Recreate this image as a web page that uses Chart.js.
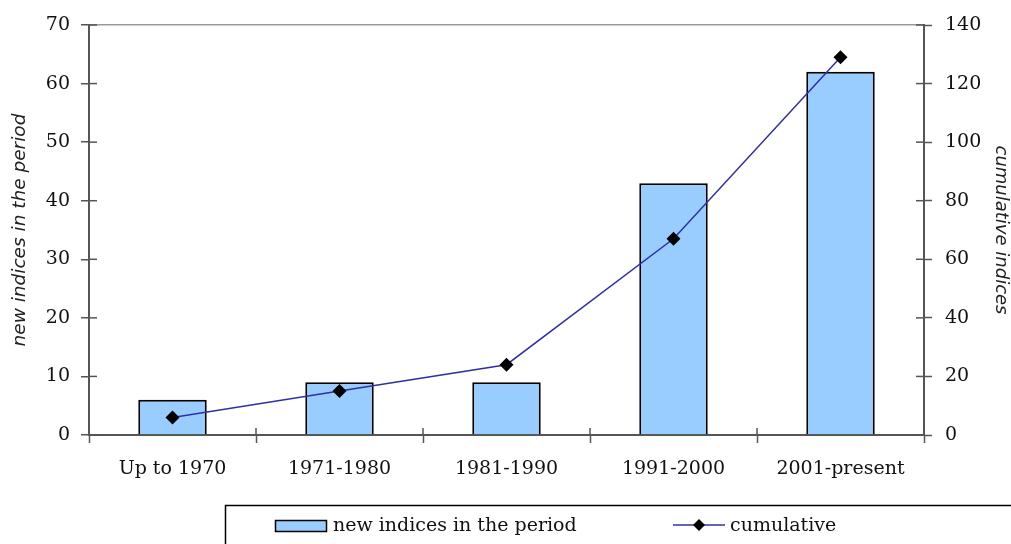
<!DOCTYPE html>
<html>
<head>
<meta charset="utf-8">
<script src="https://cdn.jsdelivr.net/npm/chart.js@4/dist/chart.umd.min.js"></script>
<style>
  html, body { margin: 0; padding: 0; background: #fff; }
  #wrap { width: 1011px; height: 544px; }
</style>
</head>
<body>
<div id="wrap"><canvas id="chart" width="1011" height="544"></canvas></div>
<script>
// ------------------
// data
// ------------------
const categories = ["Up to 1970", "1971-1980", "1981-1990", "1991-2000", "2001-present"];
const newIndices = [6, 9, 9, 43, 62];
const cumulative = [6, 15, 24, 67, 129];
const leftTicks = [0, 10, 20, 30, 40, 50, 60, 70];
const rightTicks = [0, 20, 40, 60, 80, 100, 120, 140];

const FONT = "'DejaVu Serif', 'Liberation Serif', serif";
const TITLE_FONT = "'DejaVu Sans', Verdana, sans-serif";
const FS = 19;
const axisColor = "#555";
const lineColor = "#3030A0";

// inner half of the crossing tick marks + legend box
const extras = {
  id: "extras",
  afterDraw(chart) {
    const ctx = chart.ctx;
    const a = chart.chartArea;
    ctx.save();
    ctx.strokeStyle = axisColor;
    ctx.lineWidth = 1.5;
    const y = chart.scales.y, y2 = chart.scales.y2, x = chart.scales.x;
    y.ticks.forEach(t => {
      const p = y.getPixelForValue(t.value);
      ctx.beginPath(); ctx.moveTo(a.left, p); ctx.lineTo(a.left + 8, p); ctx.stroke();
    });
    y2.ticks.forEach(t => {
      const p = y2.getPixelForValue(t.value);
      ctx.beginPath(); ctx.moveTo(a.right - 8, p); ctx.lineTo(a.right, p); ctx.stroke();
    });
    for (let i = 0; i <= categories.length; i++) {
      const p = x.getPixelForValue(i - 0.5);
      ctx.beginPath(); ctx.moveTo(p, a.bottom - 7); ctx.lineTo(p, a.bottom); ctx.stroke();
    }
    ctx.restore();

    // legend
    ctx.save();
    ctx.strokeStyle = "#000";
    ctx.lineWidth = 1.5;
    ctx.strokeRect(225.5, 505.5, 790, 60);
    const ly = 526;
    ctx.fillStyle = "#99CCFF";
    ctx.fillRect(275, 520, 52, 12);
    ctx.strokeStyle = "#000";
    ctx.lineWidth = 1.5;
    ctx.strokeRect(275.5, 520.5, 51, 11);
    ctx.fillStyle = "#111";
    ctx.font = FS + "px " + FONT;
    ctx.textBaseline = "middle";
    ctx.fillText("new indices in the period", 333, ly);
    ctx.strokeStyle = lineColor;
    ctx.lineWidth = 1.5;
    ctx.beginPath(); ctx.moveTo(673, 525); ctx.lineTo(725, 525); ctx.stroke();
    ctx.fillStyle = "#000";
    ctx.beginPath();
    ctx.moveTo(699, 519); ctx.lineTo(705, 525); ctx.lineTo(699, 531); ctx.lineTo(693, 525);
    ctx.closePath(); ctx.fill();
    ctx.fillStyle = "#111";
    ctx.fillText("cumulative", 730, ly);
    ctx.restore();
  }
};

function fixedWidth(w) { return scale => { scale.width = w; }; }

new Chart(document.getElementById("chart"), {
  data: {
    labels: categories,
    datasets: [
      {
        type: "line",
        label: "cumulative",
        data: cumulative,
        yAxisID: "y2",
        borderColor: lineColor,
        borderWidth: 1.5,
        pointStyle: "rectRot",
        pointRadius: 7,
        pointBackgroundColor: "#000",
        pointBorderColor: "#000",
        pointBorderWidth: 0,
        tension: 0,
        order: 0
      },
      {
        type: "bar",
        label: "new indices in the period",
        data: newIndices,
        yAxisID: "y",
        backgroundColor: "#99CCFF",
        borderColor: "#000",
        borderWidth: 2,
        categoryPercentage: 1,
        barPercentage: 0.41,
        order: 1
      }
    ]
  },
  options: {
    responsive: false,
    animation: false,
    layout: { padding: { top: 25, bottom: 54, left: 0, right: 0 } },
    plugins: {
      legend: { display: false },
      tooltip: { enabled: false }
    },
    scales: {
      x: {
        offset: true,
        grid: { offset: true, color: "transparent", tickColor: axisColor, tickLength: 8, tickWidth: 1.5 },
        border: { color: axisColor, width: 2 },
        ticks: { color: "#111", font: { family: FONT, size: FS }, padding: 15, maxRotation: 0 },
        afterFit: s => { s.height = 55; }
      },
      y: {
        position: "left",
        min: 0, max: 70,
        afterBuildTicks: s => { s.ticks = leftTicks.map(v => ({ value: v })); },
        grid: {
          color: c => (c.tick && c.tick.value === 70 ? "#999" : "transparent"),
          tickColor: axisColor, tickLength: 8, tickWidth: 1.5, lineWidth: 1.5
        },
        border: { color: axisColor, width: 2 },
        ticks: { color: "#111", font: { family: FONT, size: FS }, padding: 11 },
        title: {
          display: true, text: "new indices in the period", color: "#222",
          font: { family: TITLE_FONT, size: 18.5, style: "italic" }, padding: { top: 9, bottom: 0 }
        },
        afterFit: fixedWidth(89)
      },
      y2: {
        position: "right",
        min: 0, max: 140,
        afterBuildTicks: s => { s.ticks = rightTicks.map(v => ({ value: v })); },
        grid: { color: "transparent", tickColor: axisColor, tickLength: 8, tickWidth: 1.5, drawOnChartArea: false },
        border: { color: axisColor, width: 2 },
        ticks: { color: "#111", font: { family: FONT, size: FS }, padding: 13 },
        title: {
          display: true, text: "cumulative indices", color: "#222",
          font: { family: TITLE_FONT, size: 18, style: "italic" }, padding: { top: 0, bottom: 0 }
        },
        afterFit: fixedWidth(87)
      }
    }
  },
  plugins: [extras]
});
</script>
</body>
</html>
